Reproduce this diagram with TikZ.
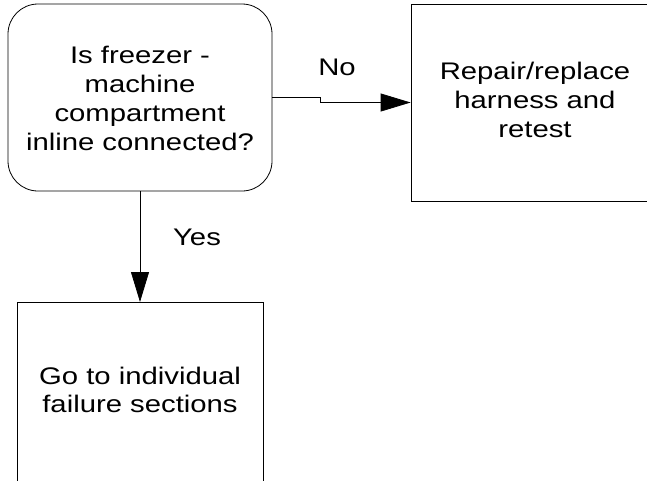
\documentclass[tikz,border=0pt]{standalone}
\usepackage{fontspec}
\setmainfont{Liberation Sans}[FakeStretch=1.22]
\usetikzlibrary{arrows.meta}
\begin{document}
\begin{tikzpicture}[x=1pt,y=-1pt,
  txt/.style={font=\fontsize{24}{28.8}\selectfont, align=center, inner sep=0pt},
  boxline/.style={draw=black, line width=0.8pt},
  conn/.style={draw=black, line width=0.8pt, -{Triangle[length=30pt,width=18pt]}}]
\useasboundingbox (0,0) rectangle (647,480);
\clip (0,0) rectangle (647,480);
\node[boxline, rounded corners=30pt, minimum width=264pt, minimum height=187pt, inner sep=0pt] (dec) at (140,97.5) {};
\node[txt] (dectxt) at (140,98.5) {Is freezer -\\machine\\compartment\\inline connected?};
\node[boxline, minimum width=248pt, minimum height=197pt, inner sep=0pt] (rep) at (535,102.5) {};
\node[txt] (reptxt) at (535,100) {Repair/replace\\harness and\\retest};
\node[boxline, minimum width=246pt, minimum height=190pt, inner sep=0pt, anchor=north] (fail) at (140,302) {};
\node[txt] (failtxt) at (140,390) {Go to individual\\failure sections};
\draw[conn] (dec.east) -- ++(48,0) |- (rep.west);
\draw[conn] (dec.south) -- (fail.north);
\node[txt] (no) at (337,67) {No};
\node[txt] (yes) at (197,237) {Yes};
\end{tikzpicture}
\end{document}
